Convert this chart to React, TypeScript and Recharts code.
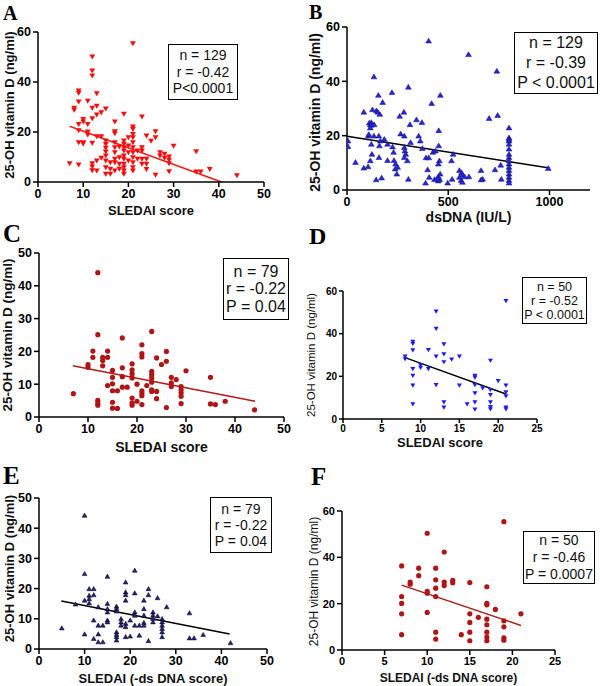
import React from 'react';
import { ScatterChart, Scatter, XAxis, YAxis, ReferenceLine, Label } from 'recharts';

// [score, 25-OH vitamin D] pairs
const panelA = [
  [7, 7.3], [9, 6.8], [12, 50], [12, 44.4], [12, 42.4], [21, 55.3], [9, 36.4], [9, 35.5], [9, 32], [8, 29.5], [8, 28.7],
  [11, 32.3], [13, 35.3], [13, 30.3], [12, 29.5], [15, 29.2], [14, 27.7], [13, 26.8], [19, 27.1], [23, 26], [10, 25], [10, 24],
  [9, 23], [11, 23], [12, 25.3], [17, 24], [21, 22], [21, 21], [9, 20.5], [11, 20], [11, 18.8], [13, 18.1], [14, 18.1], [17, 20.1],
  [17, 19.3], [20, 17.7], [21, 19], [21, 17.7], [24, 18.4], [26, 20.1], [26, 17.7], [25, 16.3], [30, 14.3], [35, 12.1], [9, 15.7],
  [10, 15.7], [10, 15.2], [12, 15.5],
  [15, 16.4], [15, 15], [15, 13.5], [15, 12], [15, 10.4], [15, 8.4], [15, 5.7], [15, 3.1],
  [16, 7.7], [16, 5.1], [16, 3.1],
  [17, 15.7], [17, 13.7], [17, 11.7], [17, 9.1], [17, 7.7], [17, 4.4],
  [18, 9.7], [18, 7.1], [18, 5.1], [18, 14],
  [19, 16.4], [19, 15.1], [19, 13.7], [19, 12.4], [19, 10.4], [19, 9.1], [19, 7.1], [19, 5.7], [19, 4.4], [19, 3.1],
  [20, 14.4], [20, 11.7], [20, 8.4],
  [21, 15.7], [21, 13.7], [21, 11.7], [21, 9.7], [21, 7.7], [21, 5.7], [21, 4.4],
  [22, 12.4], [22, 9.1], [23, 13.7], [23, 12.4], [23, 9.1], [23, 7.1], [24, 9.1], [24, 7.1], [24, 5],
  [26, 2.7], [27, 11.7], [27, 10.4], [28, 11.1], [28, 9.5], [29, 10], [29, 8.7], [29, 7.3], [29, 4.1],
  [35, 4], [36, 4], [38, 5], [44, 2.5], [12, 7.3], [12, 6], [12, 4.5], [13, 8.4], [13, 4.4], [14, 9.5],
];

const panelB = [
  [5, 18.2], [5, 16.1], [42, 10.3], [83, 28.8], [83, 8.2], [104, 8.7], [110, 24.8], [115, 24.2], [115, 23], [105, 20], [108, 20.6],
  [120, 25], [120, 24], [133, 41.8], [126, 29.7], [134, 24.2], [133, 20], [120, 17], [123, 13.3], [115, 10.9], [144, 3.9],
  [145, 29.3], [152, 28.8], [162, 28], [155, 35], [176, 32.4], [157, 20], [165, 18.2], [160, 16.4], [184, 18.8], [158, 12.1], [171, 4.6],
  [222, 36], [200, 17], [200, 11], [225, 16], [232, 11], [240, 9.7], [250, 8.5], [238, 7.9], [230, 14], [246, 6],
  [260, 27.3], [281, 28.8], [303, 38], [265, 20.8], [283, 20], [283, 15.8], [286, 14.5], [290, 13.3], [283, 12.1], [298, 10.9], [303, 4.1],
  [311, 24.2], [314, 17.6], [343, 26], [370, 25], [354, 20], [362, 18.2], [372, 15.4],
  [418, 32], [403, 55], [461, 35], [453, 22], [453, 16.4], [424, 14], [437, 14.5], [390, 12], [404, 12], [398, 7.6], [406, 4.8],
  [388, 2.7], [456, 10.9], [451, 9.7], [460, 6], [451, 5], [458, 4], [451, 3.5], [432, 4], [445, 4.3],
  [524, 13.3], [516, 10.9], [497, 2.7], [519, 4.1], [555, 7.3], [566, 6.5], [570, 5.7], [555, 4.8], [563, 3.6], [570, 3], [581, 5], [602, 5],
  [600, 50], [662, 7.3], [662, 3.9], [670, 4.1], [702, 26.5], [731, 7.6], [744, 27.6], [740, 43.9], [759, 9.3], [762, 4.1],
  [800, 23], [800, 19.4], [800, 18.8], [800, 18.2], [800, 17], [800, 15.2], [800, 13.3], [800, 12.1], [800, 10.9], [800, 9.7],
  [800, 8.5], [800, 7.3], [800, 6], [800, 4.8], [800, 3.6], [800, 2.7], [994, 8.1],
];

const panelC = [
  [7, 7.1], [12, 44], [12, 25.1], [12, 5.1], [12, 4.3], [12, 3.6], [10, 16], [10, 15.2], [11, 20.1], [11, 18.2], [13, 18.2], [13, 17.2],
  [13, 15.6], [14, 18.2], [14, 20.1], [14, 9.6], [15, 14.2], [15, 12.1], [15, 10.1], [15, 8], [15, 4.5], [15, 2.7], [16, 8], [16, 2.6],
  [17, 24.1], [17, 15], [17, 12.3], [17, 9.1], [18, 9.1], [19, 16.2], [19, 14.4], [19, 13.2], [19, 11.9], [19, 5.8], [19, 4.3], [19, 3.6],
  [20, 10], [20, 4.8], [21, 22], [21, 19.3], [21, 18.3], [21, 8], [21, 7.3], [21, 6.5], [21, 3.8], [22, 9.6], [23, 26.1], [23, 13.9],
  [23, 12.9], [23, 11.9], [23, 10.6], [23, 8.3], [23, 7.8], [24, 18], [24, 7.8], [24, 5.6], [25, 16], [26, 20], [26, 17], [26, 2.9],
  [27, 12.1], [27, 10.4], [27, 9.3], [28, 11.4], [29, 9.3], [29, 8.3], [29, 7.3], [29, 6.3], [29, 4.1], [30, 14.1], [35, 12.1],
  [35, 4], [36, 3.8], [38, 4.8], [44, 2.2],
];

const panelD = [
  [8, 29.2], [8, 28], [9, 36.2], [9, 35.2], [9, 32.2], [9, 23.4], [9, 20.2], [9, 15.6], [9, 6.9], [10, 25.3], [10, 24], [11, 32.3],
  [11, 23.4], [12, 50.3], [12, 42.2], [12, 29.2], [12, 15.9], [13, 35], [13, 30.3], [13, 26.6], [13, 7.8], [13, 5.3], [14, 27.8],
  [15, 29.2], [15, 15.6], [16, 6.9], [17, 20.2], [17, 19.4], [17, 15.9], [17, 12], [17, 7.8], [17, 4.4], [18, 14.4], [19, 27.3],
  [19, 13.6], [19, 11.2], [19, 7.8], [19, 5.6], [19, 4.5], [20, 17.8], [21, 55.3], [21, 15.6], [21, 12.5], [21, 10.6], [21, 5.3], [21, 4.5],
];

const panelE = [
  [5, 7], [8, 14.9], [10, 44.3], [10, 25], [10, 16.2], [10, 5], [11, 20], [12, 20], [11, 17.8], [11, 16.7], [11, 15.3], [12, 18],
  [12, 9.6], [12, 3.5], [13, 14], [13, 7.9], [13, 5], [13, 2.4], [14, 7.9], [14, 2.4], [15, 24.1], [15, 15.1], [15, 13.4], [15, 12.3],
  [15, 9.6], [15, 9], [17, 14.2], [17, 13.4], [17, 12.6], [17, 5.7], [17, 4.8], [17, 4.1], [17, 3], [18, 10.1], [18, 9], [18, 7.9],
  [19, 22.2], [19, 18.9], [19, 18], [19, 16.2], [19, 8.5], [19, 7.4], [19, 4.1], [20, 9.6], [20, 4.3], [21, 26.1], [21, 18.6],
  [21, 12.3], [21, 11.2], [21, 7.9], [22, 7.9], [22, 4.6], [23, 16.2], [23, 13.4], [23, 11.2], [23, 8.8], [23, 7.9], [24, 20], [24, 18],
  [24, 2.8], [25, 12.3], [25, 11.2], [25, 10.1], [25, 9], [26, 11], [26, 17], [27, 10.1], [27, 9], [27, 7.9], [27, 6.8], [27, 5.7],
  [27, 4.1], [28, 14], [33, 12], [33, 3.7], [34, 3.7], [36, 4.8], [42, 2.1],
];

const panelF = [
  [7, 36.3], [7, 23.1], [7, 20.1], [7, 15.6], [7, 6.6], [8, 29.3], [8, 28.4], [9, 35.3], [9, 32.1], [10, 50.4], [10, 25.3], [10, 24.5],
  [10, 16.2], [11, 35.3], [11, 30.3], [11, 26.7], [11, 23.1], [11, 7.7], [11, 4.7], [12, 42.3], [12, 29.3], [12, 27.8], [13, 30.1],
  [13, 29], [14, 6.6], [15, 29.1], [15, 15.6], [15, 11.9], [15, 7.7], [15, 4], [16, 14.1], [17, 27.3], [17, 20.1], [17, 19.5],
  [17, 13.3], [17, 10.9], [17, 7.7], [17, 5.6], [17, 4], [18, 17.5], [19, 55.4], [19, 12.6], [19, 10], [19, 5.2], [19, 4.2], [21, 15.6],
];

// regression line end points
const fitA = [[7, 22.3], [40.6, 0]];
const fitB = [[0, 19.8], [1000, 8.1]];
const fitC = [[6.9, 15.6], [44.1, 4.8]];
const fitD = [[8, 28.75], [21, 11.7]];
const fitE = [[4.9, 15.9], [41.8, 5]];
const fitF = [[7, 28], [21, 10.6]];

const statsA = ['n = 129', 'r = -0.42', 'P<0.0001'];
const statsB = ['n = 129', 'r = -0.39', 'P < 0.0001'];
const statsC = ['n = 79', 'r = -0.22', 'P = 0.04'];
const statsD = ['n = 50', 'r = -0.52', 'P < 0.0001'];
const statsE = ['n = 79', 'r = -0.22', 'P = 0.04'];
const statsF = ['n = 50', 'r = -0.46', 'P = 0.0007'];

const ticks50 = [0, 10, 20, 30, 40, 50];
const ticks60 = [0, 20, 40, 60];
const ticks25 = [0, 5, 10, 15, 20, 25];
const ticksDNA = [0, 500, 1000];

const yTitle = '25-OH vitamin D (ng/ml)';
const font = 'Arial, "Liberation Sans", sans-serif';

const triDown = (fill: string, w: number, h: number, stroke?: string) => (p: any) => (
  <path
    d={`M${p.cx - w / 2},${p.cy - h / 2}L${p.cx + w / 2},${p.cy - h / 2}L${p.cx},${p.cy + h / 2}Z`}
    fill={fill}
    stroke={stroke || 'none'}
    strokeWidth={0.5}
  />
);
const triUp = (fill: string, w: number, h: number, stroke?: string) => (p: any) => (
  <path
    d={`M${p.cx - w / 2},${p.cy + h / 2}L${p.cx + w / 2},${p.cy + h / 2}L${p.cx},${p.cy - h / 2}Z`}
    fill={fill}
    stroke={stroke || 'none'}
    strokeWidth={0.5}
  />
);
const dot = (fill: string, r: number) => (p: any) => <circle cx={p.cx} cy={p.cy} r={r} fill={fill} />;

function Panel(props: any) {
  const pts = props.data.map(([x, y]: number[]) => ({ x, y }));
  const axis = { stroke: '#000', strokeWidth: 1.5 };
  const tick = { fill: '#000', fontSize: props.tickFont, fontWeight: 'bold', fontFamily: font };
  const [p0, p1] = props.fit;
  return (
    <div style={{ position: 'absolute', left: props.left, top: props.top }}>
      <ScatterChart width={props.width} height={props.height} margin={props.margin}>
        <XAxis
          type="number"
          dataKey="x"
          domain={props.xDomain}
          ticks={props.xTicks}
          interval={0}
          allowDataOverflow
          height={props.xHeight}
          axisLine={axis}
          tickLine={axis}
          tickSize={props.tickSize}
          tick={tick}
        >
          <Label
            content={({ viewBox }: any) => (
              <text
                x={viewBox.x + viewBox.width / 2}
                y={viewBox.y + props.xtDy}
                textAnchor="middle"
                dominantBaseline="central"
                fontFamily={font}
                fontSize={props.xtSize}
                fontWeight="bold"
                fill="#111"
              >
                {props.xTitle}
              </text>
            )}
          />
        </XAxis>
        <YAxis
          type="number"
          dataKey="y"
          domain={props.yDomain}
          ticks={props.yTicks}
          interval={0}
          allowDataOverflow
          width={props.yWidth}
          axisLine={axis}
          tickLine={axis}
          tickSize={props.tickSize}
          tick={tick}
        >
          <Label
            content={({ viewBox }: any) => {
              const cx = viewBox.x + props.ytDx;
              const cy = viewBox.y + viewBox.height / 2 + props.ytDy;
              return (
                <text
                  x={cx}
                  y={cy}
                  transform={`rotate(-90 ${cx} ${cy})`}
                  textAnchor="middle"
                  dominantBaseline="central"
                  fontFamily={font}
                  fontSize={props.ytSize}
                  fontWeight={props.ytWeight}
                  fill="#111"
                >
                  {yTitle}
                </text>
              );
            }}
          />
        </YAxis>
        <ReferenceLine
          segment={[{ x: p0[0], y: p0[1] }, { x: p1[0], y: p1[1] }]}
          stroke={props.lineColor}
          strokeWidth={1.5}
          ifOverflow="visible"
        />
        <Scatter data={pts} shape={props.shape} isAnimationActive={false} />
      </ScatterChart>
    </div>
  );
}

function StatBox({ left, top, w, h, size, lh, lines }: any) {
  return (
    <div
      style={{
        position: 'absolute',
        left,
        top,
        width: w,
        height: h,
        boxSizing: 'border-box',
        border: '1.5px solid #000',
        background: '#fff',
        display: 'flex',
        flexDirection: 'column',
        justifyContent: 'center',
        alignItems: 'center',
        fontFamily: font,
        fontSize: size,
        lineHeight: `${lh}px`,
        color: '#111',
      }}
    >
      {lines.map((t: string) => (
        <div key={t} style={{ whiteSpace: 'nowrap' }}>{t}</div>
      ))}
    </div>
  );
}

function Letter({ left, top, size, text }: any) {
  return (
    <div
      style={{
        position: 'absolute',
        left,
        top,
        fontFamily: '"Liberation Serif", "Times New Roman", serif',
        fontWeight: 'bold',
        fontSize: size,
        lineHeight: `${size}px`,
        color: '#000',
      }}
    >
      {text}
    </div>
  );
}

export default function App() {
  return (
    <div style={{ position: 'absolute', left: 0, top: 0, width: 600, height: 686, background: '#fff', overflow: 'hidden' }}>
      <Panel
        left={0} top={0} width={300} height={225}
        margin={{ top: 32, right: 36, bottom: 0, left: 0 }}
        yWidth={38} xHeight={43}
        xDomain={[0, 50]} xTicks={ticks50} yDomain={[0, 60]} yTicks={ticks60}
        data={panelA} fit={fitA} lineColor="#ee1c1c"
        shape={triDown('#ff0a0a', 5.8, 4.8)}
        tickFont={12.5} tickSize={5}
        xTitle="SLEDAI score" xtDy={28} xtSize={13}
        ytDx={9} ytDy={-2} ytSize={13} ytWeight="bold"
      />
      <Panel
        left={300} top={0} width={300} height={230}
        margin={{ top: 27, right: 10, bottom: 0, left: 0 }}
        yWidth={47} xHeight={40}
        xDomain={[0, 1200]} xTicks={ticksDNA} yDomain={[0, 60]} yTicks={ticks60}
        data={panelB} fit={fitB} lineColor="#000"
        shape={triUp('#2626e0', 5.8, 4.8, '#10106a')}
        tickFont={12.5} tickSize={5}
        xTitle="dsDNA (IU/L)" xtDy={27} xtSize={14}
        ytDx={15} ytDy={4} ytSize={14} ytWeight="bold"
      />
      <Panel
        left={0} top={222} width={300} height={235}
        margin={{ top: 31, right: 16, bottom: 0, left: 0 }}
        yWidth={39} xHeight={40}
        xDomain={[0, 50]} xTicks={ticks50} yDomain={[0, 50]} yTicks={ticks50}
        data={panelC} fit={fitC} lineColor="#b01c1c"
        shape={dot('#b01414', 2.6)}
        tickFont={12.5} tickSize={5}
        xTitle="SLEDAI score" xtDy={30} xtSize={14}
        ytDx={7} ytDy={0} ytSize={13.5} ytWeight="bold"
      />
      <Panel
        left={300} top={222} width={300} height={235}
        margin={{ top: 69, right: 63, bottom: 0, left: 0 }}
        yWidth={43} xHeight={38}
        xDomain={[0, 25]} xTicks={ticks25} yDomain={[0, 60]} yTicks={ticks60}
        data={panelD} fit={fitD} lineColor="#000"
        shape={triDown('#1a1aff', 5, 4.2)}
        tickFont={10} tickSize={4}
        xTitle="SLEDAI score" xtDy={23} xtSize={13}
        ytDx={11} ytDy={0} ytSize={11.5} ytWeight="normal"
      />
      <Panel
        left={0} top={458} width={300} height={228}
        margin={{ top: 40, right: 33, bottom: 0, left: 0 }}
        yWidth={39} xHeight={37}
        xDomain={[0, 50]} xTicks={ticks50} yDomain={[0, 50]} yTicks={ticks50}
        data={panelE} fit={fitE} lineColor="#000"
        shape={triUp('#22228a', 4.8, 4.2, '#000')}
        tickFont={12.5} tickSize={5}
        xTitle="SLEDAI (-ds DNA score)" xtDy={29} xtSize={13}
        ytDx={9} ytDy={-5} ytSize={13} ytWeight="bold"
      />
      <Panel
        left={300} top={458} width={300} height={228}
        margin={{ top: 53, right: 45, bottom: 0, left: 0 }}
        yWidth={42} xHeight={36}
        xDomain={[0, 25]} xTicks={ticks25} yDomain={[0, 60]} yTicks={ticks60}
        data={panelF} fit={fitF} lineColor="#b01c1c"
        shape={dot('#b01414', 2.6)}
        tickFont={11} tickSize={5}
        xTitle="SLEDAI (-ds DNA score)" xtDy={28} xtSize={12}
        ytDx={14} ytDy={1} ytSize={12} ytWeight="normal"
      />

      <StatBox left={168} top={44} w={70} h={56} size={14} lh={16.5} lines={statsA} />
      <StatBox left={514} top={32} w={84} h={62} size={16} lh={20} lines={statsB} />
      <StatBox left={223} top={258} w={66} h={62} size={16} lh={17.5} lines={statsC} />
      <StatBox left={522} top={277} w={65} h={47} size={12.5} lh={14} lines={statsD} />
      <StatBox left={210} top={497} w={62} h={56} size={14} lh={16} lines={statsE} />
      <StatBox left={523} top={531} w={72} h={53} size={14} lh={17} lines={statsF} />

      <Letter left={3} top={2.5} size={20} text="A" />
      <Letter left={309} top={1.5} size={20} text="B" />
      <Letter left={3} top={220.6} size={25} text="C" />
      <Letter left={309} top={223.8} size={24} text="D" />
      <Letter left={3} top={462.6} size={25} text="E" />
      <Letter left={311} top={463.6} size={25} text="F" />
    </div>
  );
}
